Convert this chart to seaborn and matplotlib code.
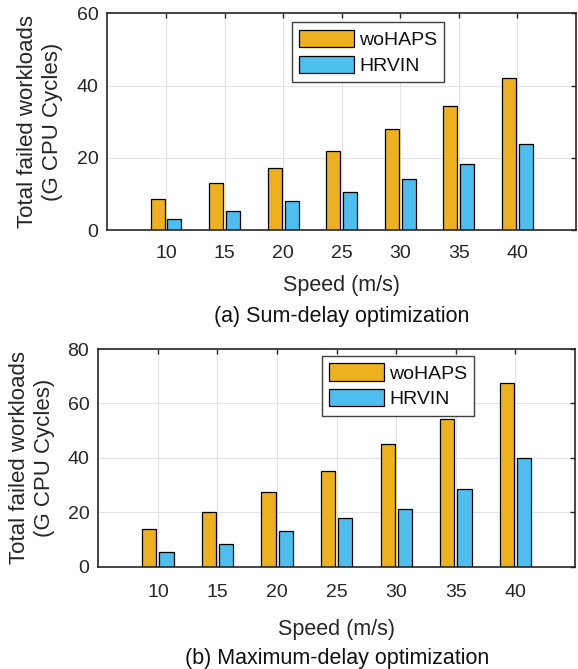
import matplotlib
matplotlib.use("Agg")
import matplotlib.pyplot as plt
import seaborn as sns
import pandas as pd

speeds = ["10", "15", "20", "25", "30", "35", "40"]
methods = ["woHAPS", "HRVIN"]
sum_wohaps = [8.6, 13.0, 17.1, 21.9, 28.1, 34.3, 42.1]
sum_hrvin = [3.2, 5.3, 8.1, 10.7, 14.2, 18.2, 23.9]
max_wohaps = [13.8, 20.0, 27.4, 35.2, 45.2, 54.3, 67.6]
max_hrvin = [5.2, 8.3, 12.9, 17.8, 21.2, 28.5, 40.0]
colors = {"woHAPS": "#EDB120", "HRVIN": "#4DBEEE"}

ylabel = "Total failed workloads\n(G CPU Cycles)"
xlabel = "Speed (m/s)"
captions = ["(a) Sum-delay optimization", "(b) Maximum-delay optimization"]

sns.set_style("white")
plt.rcParams["font.family"] = ["Liberation Sans", "DejaVu Sans"]
TXT = "#262626"

W, H = 578, 669
fig = plt.figure(figsize=(W / 100, H / 100), dpi=100)

def make_df(a, b):
    return pd.DataFrame({
        "speed": speeds * 2,
        "value": a + b,
        "method": [methods[0]] * len(speeds) + [methods[1]] * len(speeds),
    })

panels = [
    dict(box=(107.4, 13.3, 576.0, 230.3), data=(sum_wohaps, sum_hrvin), ymax=60,
         yticks=[0, 20, 40, 60], pad=10.9, ylab_x=40, xl_base=290.5, cap_base=321.7,
         leg=(291.7, 22.3)),
    dict(box=(98.3, 349.0, 575.0, 566.5), data=(max_wohaps, max_hrvin), ymax=80,
         yticks=[0, 20, 40, 60, 80], pad=12.6, ylab_x=32, xl_base=635.0, cap_base=664.0,
         leg=(321.7, 356.0)),
]

for i, p in enumerate(panels):
    l, t, r, b = p["box"]
    ax = fig.add_axes([l / W, 1 - b / H, (r - l) / W, (b - t) / H])
    df = make_df(*p["data"])
    sns.barplot(data=df, x="speed", y="value", hue="method", order=speeds,
                hue_order=methods, palette=colors, saturation=1, width=0.575, gap=0.17,
                edgecolor="black", linewidth=0.9, errorbar=None, ax=ax, zorder=3)
    ax.set_xlim(-1, 7)
    ax.set_ylim(0, p["ymax"])
    ax.set_yticks(p["yticks"])
    ax.set_xlabel("")
    ax.set_ylabel("")
    ax.grid(True, color="#e3e3e3", linewidth=0.8, zorder=0)
    ax.set_axisbelow(True)
    for s in ax.spines.values():
        s.set_color(TXT)
        s.set_linewidth(1.2)
        s.set_visible(True)
        s.set_zorder(5)
    ax.tick_params(direction="in", length=3.4, width=1.0, color=TXT,
                   labelcolor=TXT, labelsize=14, top=True, right=True)
    ax.tick_params(axis="x", pad=p["pad"])
    ax.tick_params(axis="y", pad=6.5)
    leg = ax.legend(loc="upper left", bbox_to_anchor=(p["leg"][0] / W, 1 - p["leg"][1] / H),
                    bbox_transform=fig.transFigure, borderaxespad=0, fontsize=14,
                    handlelength=2.8, handleheight=0.98, handletextpad=0.28,
                    labelspacing=0.34, borderpad=0.38, fancybox=False,
                    framealpha=1, edgecolor="#404040")
    leg.get_frame().set_linewidth(1.0)
    for txt in leg.get_texts():
        txt.set_color("#111111")
    cx = (l + r) / 2 / W
    fig.text(cx, 1 - p["xl_base"] / H, xlabel, ha="center", va="baseline",
             fontsize=15.5, color=TXT)
    fig.text(cx, 1 - p["cap_base"] / H, captions[i], ha="center", va="baseline",
             fontsize=15.5, color="#111111")
    fig.text(p["ylab_x"] / W, 1 - (t + b) / 2 / H, ylabel, rotation=90,
             ha="center", va="center", multialignment="center", fontsize=16,
             color=TXT, linespacing=1.2)

fig.savefig("out.png", dpi=100)
